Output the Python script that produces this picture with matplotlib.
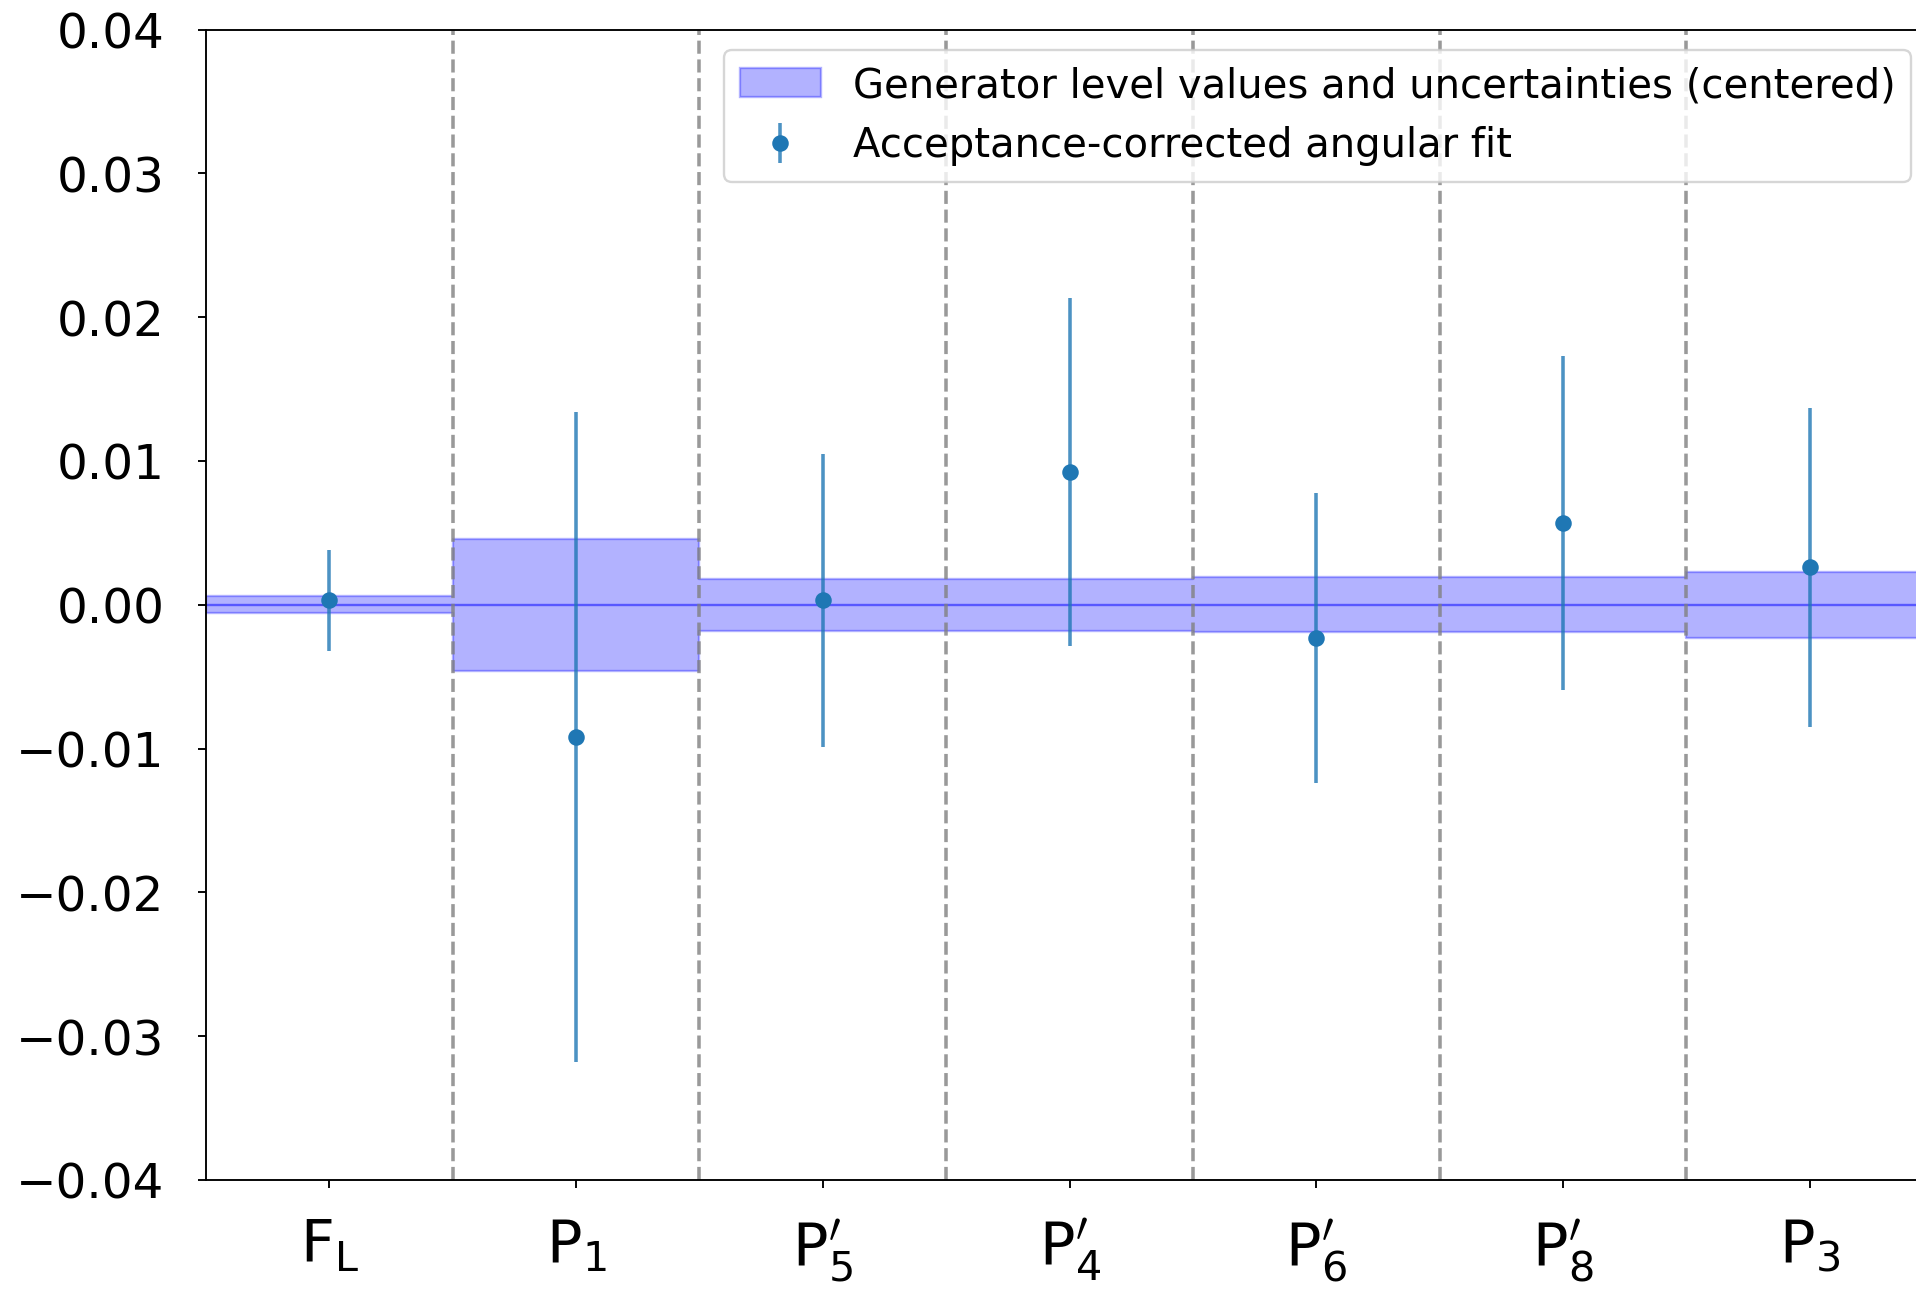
import numpy as np
import matplotlib
matplotlib.use('Agg')
import matplotlib.pyplot as plt

# observables (x axis)
labels = [r'$\mathrm{F}_\mathrm{L}$', r'$\mathrm{P}_1$', r'$\mathrm{P}^{\prime}_5$',
          r'$\mathrm{P}^{\prime}_4$', r'$\mathrm{P}^{\prime}_6$', r'$\mathrm{P}^{\prime}_8$',
          r'$\mathrm{P}_3$']

# generator level: centred values and uncertainties
gen_center = [0.0, 0.0, 0.0, 0.0, 0.0, 0.0, 0.0]
gen_err = [0.0006, 0.0046, 0.0018, 0.0018, 0.0019, 0.0019, 0.0023]

# acceptance-corrected fit (residuals w.r.t. generator)
fit_val = [0.0003, -0.0092, 0.0003, 0.0092, -0.0023, 0.0057, 0.0026]
fit_err = [0.0035, 0.0226, 0.0102, 0.0121, 0.0101, 0.0116, 0.0111]

DPI = 170
fig = plt.figure(figsize=(1916.5 / DPI, 1290.5 / DPI), dpi=DPI)
ax = fig.add_axes([0.1075, 0.0853, 0.9012, 0.8914])

x = np.arange(len(labels))
edges = np.arange(len(labels) + 1) - 0.5
lo = np.array(gen_center) - np.array(gen_err)
hi = np.array(gen_center) + np.array(gen_err)

ax.fill_between(edges, np.append(lo, lo[-1]), np.append(hi, hi[-1]), step='post',
                color='blue', alpha=0.3,
                label='Generator level values and uncertainties (centered)')
ax.stairs(gen_center, edges, baseline=None, color='blue', alpha=0.5, lw=1)

for b in edges[1:-1]:
    ax.axvline(b, color='gray', ls='--', alpha=0.8)

eb = ax.errorbar(x, fit_val, yerr=fit_err, fmt='o', color='C0', ms=6,
                 label='Acceptance-corrected angular fit')
for c in eb[2]:
    c.set_alpha(0.8)

ax.set_xlim(-0.5, 6.5)
ax.set_ylim(-0.04, 0.04)
ax.set_yticks(np.arange(-0.04, 0.041, 0.01))
ax.set_xticks(x)
ax.set_xticklabels(labels, fontsize=25)
ax.tick_params(axis='y', labelsize=20.5, pad=14)
ax.tick_params(axis='x', pad=12)
ax.spines['right'].set_visible(False)

ax.legend(loc='upper right', bbox_to_anchor=(1911 / 1916, 1 - 50 / 1290),
          bbox_transform=fig.transFigure, borderaxespad=0, fontsize=17)

fig.savefig('out.png', dpi=DPI)
